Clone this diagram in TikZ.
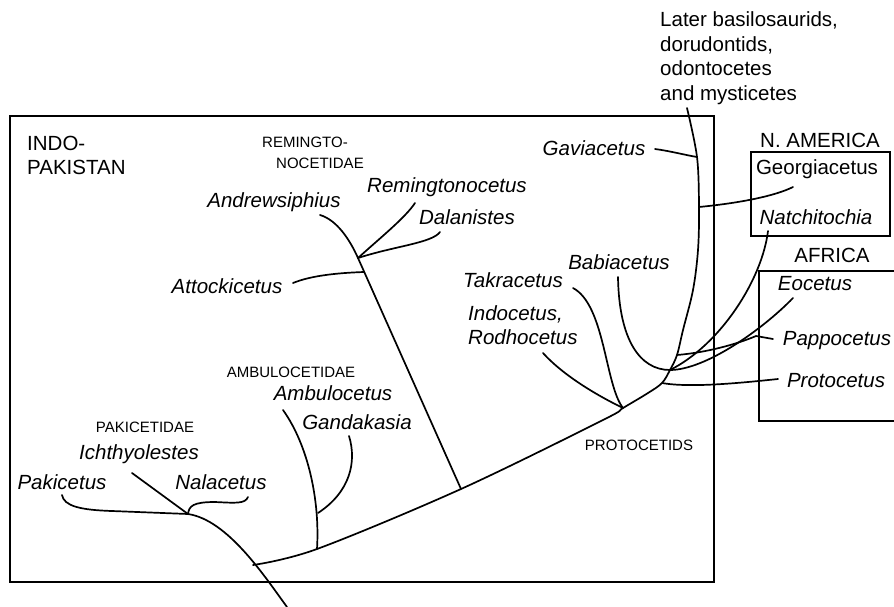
\documentclass[tikz,border=0pt]{standalone}
\usepackage{fontspec}
\setmainfont{Liberation Sans}
\begin{document}
\begin{tikzpicture}[x=1pt,y=-1pt,
  lab/.style={font=\fontsize{20.5}{24}\selectfont, inner sep=0pt, anchor=base},
  tax/.style={font=\fontsize{20.5}{24}\selectfont\itshape, inner sep=0pt, anchor=base},
  fam/.style={font=\fontsize{15}{18}\selectfont, inner sep=0pt, anchor=base},
  branch/.style={line width=1.7pt, line cap=round, line join=round},
  frame/.style={line width=1.8pt}]
\useasboundingbox (0,0) rectangle (894,607);

% ---------- frames ----------
\draw[frame] (10,116) rectangle (714,582);
\draw[frame] (751,152) rectangle (890,236);
\draw[frame] (894,271) -- (759,271) -- (759,421) -- (894,421);

% ---------- labels ----------
\node[lab, anchor=base west] (later1) at (660,27) {Later basilosaurids,};
\node[lab, anchor=base west] (later2) at (660,51.5) {dorudontids,};
\node[lab, anchor=base west] (later3) at (660,76) {odontocetes};
\node[lab, anchor=base west] (later4) at (660,100.5) {and mysticetes};

\node[lab, anchor=base west] (indo) at (27,150) {INDO-};
\node[lab, anchor=base west] (pakistan) at (27,174) {PAKISTAN};
\node[lab] (namerica) at (820,147) {N. AMERICA};
\node[lab] (africa) at (832,262) {AFRICA};

\node[fam] (rem1) at (305,148) {REMINGTO-};
\node[fam] (rem2) at (320,168) {NOCETIDAE};
\node[fam] (ambfam) at (291,377) {AMBULOCETIDAE};
\node[fam] (pakfam) at (145,432) {PAKICETIDAE};
\node[fam] (protfam) at (639,450) {PROTOCETIDS};

\node[tax] (andrew) at (274,207) {Andrewsiphius};
\node[tax] (remington) at (447,192) {Remingtonocetus};
\node[tax] (dalan) at (467,224) {Dalanistes};
\node[tax] (attock) at (227,293) {Attockicetus};
\node[tax] (gavia) at (594,155) {Gaviacetus};
\node[lab] (georgia) at (817,174) {Georgiacetus};
\node[tax] (natchi) at (816,224) {Natchitochia};
\node[tax] (eoce) at (815,290) {Eocetus};
\node[tax] (pappo) at (837,345) {Pappocetus};
\node[tax] (proto) at (836,387) {Protocetus};
\node[tax] (babia) at (619,269) {Babiacetus};
\node[tax] (takra) at (513,287) {Takracetus};
\node[tax, anchor=base west] (indoc) at (468,320) {Indocetus,};
\node[tax, anchor=base west] (rodho) at (468,344) {Rodhocetus};
\node[tax] (ambulo) at (333,400) {Ambulocetus};
\node[tax] (ganda) at (357,429) {Gandakasia};
\node[tax] (ichthy) at (139,459) {Ichthyolestes};
\node[tax] (pakice) at (62,489) {Pakicetus};
\node[tax] (nala) at (221,489) {Nalacetus};

% ---------- coordinates ----------
\coordinate (root) at (287,607);
\coordinate (j0) at (253,565);
\coordinate (jP) at (188,514);
\coordinate (ichE) at (132,473);
\coordinate (pakE) at (62,495);
\coordinate (nalE) at (248,497);
\coordinate (jA) at (317,549);
\coordinate (jG) at (318,513);
\coordinate (ambE) at (283,410);
\coordinate (ganE) at (349,436);
\coordinate (jR) at (461,489);
\coordinate (jRe) at (358,258);
\coordinate (jAt) at (364,272);
\coordinate (andE) at (320,215);
\coordinate (remE) at (415,203);
\coordinate (dalE) at (440,232);
\coordinate (attE) at (293,283);
\coordinate (jPr) at (623,408);
\coordinate (takE) at (573,288);
\coordinate (indE) at (543,353);
\coordinate (jPt) at (662,383);
\coordinate (jN) at (670,370);
\coordinate (jPa) at (677,355);
\coordinate (jGe) at (699,207);
\coordinate (jGv) at (697,157);
\coordinate (top) at (687,108);
\coordinate (babE) at (618,277);
\coordinate (eoE) at (793,298);
\coordinate (natE) at (768,231);
\coordinate (papK) at (756,336);
\coordinate (papE) at (773,339);
\coordinate (proE) at (778,379);
\coordinate (geoE) at (793,187);
\coordinate (gavE) at (655,149);

% ---------- tree ----------
% root and pakicetids
\draw[branch] (root) .. controls (265,577) and (228,520) .. (jP) -- (ichE);
\draw[branch] (pakE) .. controls (64,506) and (80,510) .. (112,511) -- (jP);
\draw[branch] (nalE) .. controls (245,504) and (236,503) .. (215,502) .. controls (193,502) and (189,506) .. (jP);

% main trunk
\draw[branch] plot[smooth, tension=0.55] coordinates {(j0) (jA) (jR) (603,420) (jPr) (648,393) (jPt) (jN) (jPa) (683,330) (693,290) (698,250) (jGe) (jGv) (top)};

% ambulocetids
\draw[branch] (ambE) .. controls (308,445) and (320,500) .. (jA);
\draw[branch] (ganE) .. controls (357,462) and (350,492) .. (jG);

% remingtonocetids
\draw[branch] (andE) .. controls (337,220) and (350,240) .. (jRe) -- (jR);
\draw[branch] (remE) .. controls (405,218) and (380,238) .. (jRe);
\draw[branch] (dalE) .. controls (432,243) and (395,246) .. (jRe);
\draw[branch] (attE) .. controls (310,276) and (335,273) .. (jAt);

% protocetids
\draw[branch] (takE) .. controls (605,305) and (605,385) .. (jPr);
\draw[branch] (indE) .. controls (560,372) and (590,392) .. (jPr);
\draw[branch] (babE) .. controls (619,340) and (640,370) .. (jN) .. controls (705,370) and (762,330) .. (eoE);
\draw[branch] (natE) .. controls (762,280) and (720,345) .. (jN);
\draw[branch] (jPa) .. controls (712,352) and (742,342) .. (papK) -- (papE);
\draw[branch] (jPt) .. controls (690,388) and (740,383) .. (proE);
\draw[branch] (jGe) .. controls (740,203) and (775,196) .. (geoE);
\draw[branch] (gavE) .. controls (670,151) and (685,155) .. (jGv);
\end{tikzpicture}
\end{document}
